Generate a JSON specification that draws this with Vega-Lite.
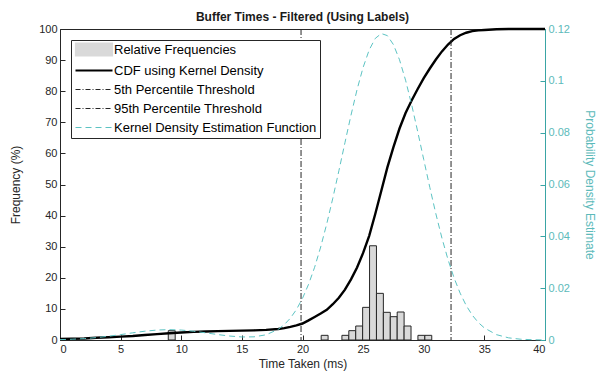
{
  "$schema": "https://vega.github.io/schema/vega-lite/v6.json",
  "width": 485,
  "height": 311,
  "autosize": {"type": "none"},
  "padding": {"left": 60, "top": 29, "right": 51, "bottom": 39},
  "background": "white",
  "title": {"text": "Buffer Times - Filtered (Using Labels)", "font": "Liberation Sans", "fontSize": 12, "fontWeight": "bold", "color": "#1a1a1a", "offset": -1},
  "config": {
    "view": {"stroke": "#262626", "strokeWidth": 1},
    "axis": {"labelFont": "Liberation Sans", "titleFont": "Liberation Sans", "labelFontSize": 11, "titleFontSize": 12, "titleFontWeight": "normal", "labelColor": "#262626", "titleColor": "#262626", "domainColor": "#262626", "tickColor": "#262626", "grid": false, "tickSize": -5}
  },
  "datasets": {
    "hist": [
      {"lo": 8.93, "hi": 9.5, "freq": 3.0},
      {"lo": 21.54, "hi": 22.11, "freq": 1.5},
      {"lo": 23.25, "hi": 23.82, "freq": 1.5},
      {"lo": 23.82, "hi": 24.39, "freq": 3.0},
      {"lo": 24.39, "hi": 24.96, "freq": 4.5},
      {"lo": 24.96, "hi": 25.53, "freq": 10.5},
      {"lo": 25.53, "hi": 26.1, "freq": 30.3},
      {"lo": 26.1, "hi": 26.67, "freq": 15.0},
      {"lo": 26.67, "hi": 27.24, "freq": 8.9},
      {"lo": 27.24, "hi": 27.81, "freq": 7.5},
      {"lo": 27.81, "hi": 28.38, "freq": 9.0},
      {"lo": 28.38, "hi": 28.95, "freq": 4.5},
      {"lo": 29.52, "hi": 30.09, "freq": 1.5},
      {"lo": 30.09, "hi": 30.66, "freq": 1.5}
    ],
    "curves": [
      {"t": 0, "cdf": 0.3, "kde": 0.00015},
      {"t": 1, "cdf": 0.4, "kde": 0.0003},
      {"t": 2, "cdf": 0.5, "kde": 0.00054},
      {"t": 3, "cdf": 0.7, "kde": 0.00092},
      {"t": 4, "cdf": 0.9, "kde": 0.00144},
      {"t": 5, "cdf": 1.1, "kde": 0.00208},
      {"t": 6, "cdf": 1.3, "kde": 0.00277},
      {"t": 7, "cdf": 1.6, "kde": 0.0034},
      {"t": 8, "cdf": 1.9, "kde": 0.00384},
      {"t": 9, "cdf": 2.15, "kde": 0.004},
      {"t": 10, "cdf": 2.4, "kde": 0.00384},
      {"t": 11, "cdf": 2.6, "kde": 0.0034},
      {"t": 12, "cdf": 2.75, "kde": 0.00278},
      {"t": 13, "cdf": 2.85, "kde": 0.0021},
      {"t": 14, "cdf": 2.95, "kde": 0.00152},
      {"t": 15, "cdf": 3.0, "kde": 0.00117},
      {"t": 16, "cdf": 3.1, "kde": 0.00122},
      {"t": 17, "cdf": 3.25, "kde": 0.00201},
      {"t": 18, "cdf": 3.55, "kde": 0.00412},
      {"t": 18.5, "cdf": 3.8, "kde": 0.00593},
      {"t": 19, "cdf": 4.2, "kde": 0.00843},
      {"t": 19.5, "cdf": 4.7, "kde": 0.01175},
      {"t": 20, "cdf": 5.3, "kde": 0.01607},
      {"t": 20.5, "cdf": 6.3, "kde": 0.02148},
      {"t": 21, "cdf": 7.4, "kde": 0.02807},
      {"t": 21.5, "cdf": 8.5, "kde": 0.03588},
      {"t": 22, "cdf": 9.7, "kde": 0.04482},
      {"t": 22.5, "cdf": 11.5, "kde": 0.05471},
      {"t": 23, "cdf": 13.6, "kde": 0.06528},
      {"t": 23.5, "cdf": 16.2, "kde": 0.07613},
      {"t": 24, "cdf": 19.5, "kde": 0.08676},
      {"t": 24.5, "cdf": 23.3, "kde": 0.09664},
      {"t": 25, "cdf": 28.0, "kde": 0.10519},
      {"t": 25.5, "cdf": 33.5, "kde": 0.11192},
      {"t": 26, "cdf": 40.5, "kde": 0.11636},
      {"t": 26.5, "cdf": 48.0, "kde": 0.11825},
      {"t": 27, "cdf": 55.5, "kde": 0.11744},
      {"t": 27.5, "cdf": 62.0, "kde": 0.11398},
      {"t": 28, "cdf": 68.0, "kde": 0.10813},
      {"t": 28.5, "cdf": 73.0, "kde": 0.10025},
      {"t": 29, "cdf": 77.0, "kde": 0.09083},
      {"t": 29.5, "cdf": 80.7, "kde": 0.08044},
      {"t": 30, "cdf": 84.2, "kde": 0.06961},
      {"t": 30.5, "cdf": 87.3, "kde": 0.05888},
      {"t": 31, "cdf": 90.2, "kde": 0.04867},
      {"t": 31.5, "cdf": 92.8, "kde": 0.03932},
      {"t": 32, "cdf": 95.0, "kde": 0.03105},
      {"t": 32.5, "cdf": 96.8, "kde": 0.02396},
      {"t": 33, "cdf": 98.0, "kde": 0.01808},
      {"t": 33.5, "cdf": 98.8, "kde": 0.01332},
      {"t": 34, "cdf": 99.3, "kde": 0.00959},
      {"t": 34.5, "cdf": 99.55, "kde": 0.00675},
      {"t": 35, "cdf": 99.7, "kde": 0.00465},
      {"t": 36, "cdf": 99.9, "kde": 0.00206},
      {"t": 37, "cdf": 100, "kde": 0.00083},
      {"t": 38, "cdf": 100, "kde": 0.0003},
      {"t": 39, "cdf": 100, "kde": 0.0001},
      {"t": 40, "cdf": 100, "kde": 0.00003}
    ],
    "thresholds": [
      {"t": 19.88, "name": "5th Percentile Threshold"},
      {"t": 32.25, "name": "95th Percentile Threshold"}
    ]
  },
  "layer": [
    {
      "layer": [
        {
          "data": {"name": "hist"},
          "mark": {"type": "bar", "stroke": "#262626", "strokeWidth": 1, "opacity": 1},
          "encoding": {
            "x": {"field": "lo", "type": "quantitative", "scale": {"domain": [0, 40], "nice": false},
                  "axis": {"values": [0, 5, 10, 15, 20, 25, 30, 35, 40], "title": "Time Taken (ms)", "labelPadding": 8, "titlePadding": 4}},
            "x2": {"field": "hi"},
            "y": {"field": "freq", "type": "quantitative", "scale": {"domain": [0, 100], "nice": false, "zero": true},
                  "axis": {"values": [0, 10, 20, 30, 40, 50, 60, 70, 80, 90, 100], "title": "Frequency (%)", "labelPadding": 8, "titlePadding": 16}},
            "y2": {"datum": 0},
            "color": {"datum": "Relative Frequencies", "type": "nominal",
              "scale": {"domain": ["Relative Frequencies", "CDF using Kernel Density", "5th Percentile Threshold", "95th Percentile Threshold", "Kernel Density Estimation Function"],
                        "range": ["#d9d9d9", "#000000", "#262626", "#262626", "#5cc3c3"]},
              "legend": {
                "title": null, "orient": "top-left", "offset": 11,
                "strokeColor": "#262626", "fillColor": "white", "padding": 3,
                "labelFont": "Liberation Sans", "labelFontSize": 13, "labelColor": "#000000", "labelLimit": 400,
                "symbolSize": 100, "labelOffset": 27, "rowPadding": 5,
                "symbolStrokeColor": "#000000", "symbolStrokeWidth": 1.2,
                "encode": {
                  "symbols": {"update": {
                    "shape": {"signal": "datum.value === 'Relative Frequencies' ? 'M-1,-1.3H6.4V1.3H-1Z' : 'M-1,0H6.4'"},
                    "fill": {"signal": "datum.value === 'Relative Frequencies' ? '#d9d9d9' : 'transparent'"},
                    "stroke": {"signal": "datum.value === 'Kernel Density Estimation Function' ? '#5cc3c3' : '#000000'"},
                    "strokeWidth": {"signal": "datum.value === 'CDF using Kernel Density' ? 2.2 : 1.2"},
                    "strokeDash": {"signal": "datum.value === 'Kernel Density Estimation Function' ? [6,4] : (indexof(datum.value, 'Percentile') >= 0 ? [5,2,1,2] : [])"},
                    "opacity": {"value": 1}, "strokeOpacity": {"value": 1}, "fillOpacity": {"value": 1}
                  }}
                }
              }}
          }
        },
        {
          "data": {"name": "curves"},
          "mark": {"type": "line", "strokeWidth": 2.4},
          "encoding": {
            "x": {"field": "t", "type": "quantitative",
                  "axis": {"values": [0, 5, 10, 15, 20, 25, 30, 35, 40], "title": "Time Taken (ms)", "labelPadding": 8, "titlePadding": 4}},
            "y": {"field": "cdf", "type": "quantitative",
                  "axis": {"values": [0, 10, 20, 30, 40, 50, 60, 70, 80, 90, 100], "title": "Frequency (%)", "labelPadding": 8, "titlePadding": 16}},
            "color": {"datum": "CDF using Kernel Density", "type": "nominal",
              "legend": {
                "title": null, "orient": "top-left", "offset": 11,
                "strokeColor": "#262626", "fillColor": "white", "padding": 3,
                "labelFont": "Liberation Sans", "labelFontSize": 13, "labelColor": "#000000", "labelLimit": 400,
                "symbolSize": 100, "labelOffset": 27, "rowPadding": 5,
                "symbolStrokeColor": "#000000", "symbolStrokeWidth": 1.2,
                "encode": {
                  "symbols": {"update": {
                    "shape": {"signal": "datum.value === 'Relative Frequencies' ? 'M-1,-1.3H6.4V1.3H-1Z' : 'M-1,0H6.4'"},
                    "fill": {"signal": "datum.value === 'Relative Frequencies' ? '#d9d9d9' : 'transparent'"},
                    "stroke": {"signal": "datum.value === 'Kernel Density Estimation Function' ? '#5cc3c3' : '#000000'"},
                    "strokeWidth": {"signal": "datum.value === 'CDF using Kernel Density' ? 2.2 : 1.2"},
                    "strokeDash": {"signal": "datum.value === 'Kernel Density Estimation Function' ? [6,4] : (indexof(datum.value, 'Percentile') >= 0 ? [5,2,1,2] : [])"},
                    "opacity": {"value": 1}, "strokeOpacity": {"value": 1}, "fillOpacity": {"value": 1}
                  }}
                }
              }}
          }
        },
        {
          "data": {"name": "thresholds"},
          "mark": {"type": "rule", "strokeWidth": 1, "strokeDash": [6, 2, 1, 2]},
          "encoding": {
            "x": {"field": "t", "type": "quantitative",
                  "axis": {"values": [0, 5, 10, 15, 20, 25, 30, 35, 40], "title": "Time Taken (ms)", "labelPadding": 8, "titlePadding": 4}},
            "color": {"field": "name", "type": "nominal",
              "legend": {
                "title": null, "orient": "top-left", "offset": 11,
                "strokeColor": "#262626", "fillColor": "white", "padding": 3,
                "labelFont": "Liberation Sans", "labelFontSize": 13, "labelColor": "#000000", "labelLimit": 400,
                "symbolSize": 100, "labelOffset": 27, "rowPadding": 5,
                "symbolStrokeColor": "#000000", "symbolStrokeWidth": 1.2,
                "encode": {
                  "symbols": {"update": {
                    "shape": {"signal": "datum.value === 'Relative Frequencies' ? 'M-1,-1.3H6.4V1.3H-1Z' : 'M-1,0H6.4'"},
                    "fill": {"signal": "datum.value === 'Relative Frequencies' ? '#d9d9d9' : 'transparent'"},
                    "stroke": {"signal": "datum.value === 'Kernel Density Estimation Function' ? '#5cc3c3' : '#000000'"},
                    "strokeWidth": {"signal": "datum.value === 'CDF using Kernel Density' ? 2.2 : 1.2"},
                    "strokeDash": {"signal": "datum.value === 'Kernel Density Estimation Function' ? [6,4] : (indexof(datum.value, 'Percentile') >= 0 ? [5,2,1,2] : [])"},
                    "opacity": {"value": 1}, "strokeOpacity": {"value": 1}, "fillOpacity": {"value": 1}
                  }}
                }
              }}
          }
        }
      ]
    },
    {
      "data": {"name": "curves"},
      "mark": {"type": "line", "strokeWidth": 1, "strokeDash": [6, 4]},
      "encoding": {
        "x": {"field": "t", "type": "quantitative",
              "axis": {"values": [0, 5, 10, 15, 20, 25, 30, 35, 40], "title": "Time Taken (ms)", "labelPadding": 8, "titlePadding": 4}},
        "y": {"field": "kde", "type": "quantitative", "scale": {"domain": [0, 0.12], "nice": false},
              "axis": {"orient": "right", "values": [0, 0.02, 0.04, 0.06, 0.08, 0.1, 0.12], "labelExpr": "'' + datum.value", "title": "Probability Density Estimate",
                       "labelColor": "#5cbaba", "titleColor": "#5cbaba", "domainColor": "#3aa5a5", "tickColor": "#3aa5a5", "labelPadding": 8, "titlePadding": 13}},
        "color": {"datum": "Kernel Density Estimation Function", "type": "nominal",
              "legend": {
                "title": null, "orient": "top-left", "offset": 11,
                "strokeColor": "#262626", "fillColor": "white", "padding": 3,
                "labelFont": "Liberation Sans", "labelFontSize": 13, "labelColor": "#000000", "labelLimit": 400,
                "symbolSize": 100, "labelOffset": 27, "rowPadding": 5,
                "symbolStrokeColor": "#000000", "symbolStrokeWidth": 1.2,
                "encode": {
                  "symbols": {"update": {
                    "shape": {"signal": "datum.value === 'Relative Frequencies' ? 'M-1,-1.3H6.4V1.3H-1Z' : 'M-1,0H6.4'"},
                    "fill": {"signal": "datum.value === 'Relative Frequencies' ? '#d9d9d9' : 'transparent'"},
                    "stroke": {"signal": "datum.value === 'Kernel Density Estimation Function' ? '#5cc3c3' : '#000000'"},
                    "strokeWidth": {"signal": "datum.value === 'CDF using Kernel Density' ? 2.2 : 1.2"},
                    "strokeDash": {"signal": "datum.value === 'Kernel Density Estimation Function' ? [6,4] : (indexof(datum.value, 'Percentile') >= 0 ? [5,2,1,2] : [])"},
                    "opacity": {"value": 1}, "strokeOpacity": {"value": 1}, "fillOpacity": {"value": 1}
                  }}
                }
              }}
      }
    }
  ],
  "resolve": {"scale": {"y": "independent"}}
}
